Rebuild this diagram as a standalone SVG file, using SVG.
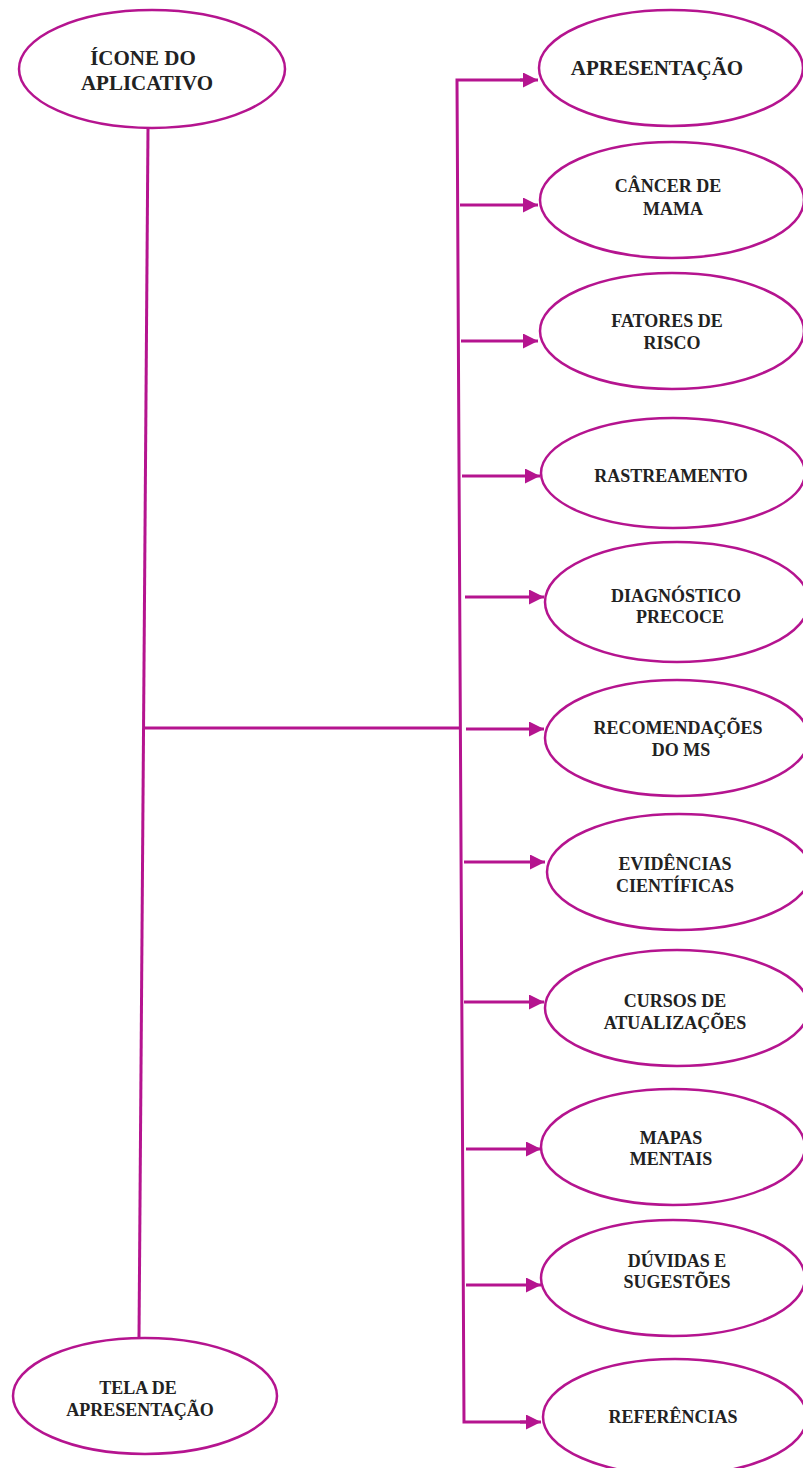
<svg xmlns="http://www.w3.org/2000/svg" width="803" height="1468" viewBox="0 0 803 1468">
<style>
.n ellipse{fill:#fff;stroke:#b5148f;stroke-width:2.5}
.t{font-family:"Liberation Serif","Times New Roman",serif;font-weight:bold;fill:#222;text-anchor:middle}
.s{font-size:18px}
.b{font-size:21px}
.c line,.c polyline{stroke:#b5148f;stroke-width:3;fill:none}
</style>
<defs>
<marker id="ah" markerWidth="5" markerHeight="5" refX="5" refY="2.5" orient="auto" markerUnits="strokeWidth">
<path d="M0,0 L5,2.5 L0,5 Z" fill="#b5148f"/>
</marker>
</defs>
<rect width="803" height="1468" fill="#fff"/>
<g id="connectors" class="c">
<line x1="148" y1="128" x2="139" y2="1338"/>
<line x1="144" y1="728" x2="459" y2="728"/>
<polyline points="530,80 457,80 464,1422 530,1422"/>
<line x1="520" y1="80" x2="538" y2="80" marker-end="url(#ah)"/>
<line x1="520" y1="1422" x2="541" y2="1422" marker-end="url(#ah)"/>
<line x1="460" y1="205" x2="538" y2="205" marker-end="url(#ah)"/>
<line x1="461" y1="341" x2="538" y2="341" marker-end="url(#ah)"/>
<line x1="462" y1="476" x2="540" y2="476" marker-end="url(#ah)"/>
<line x1="465" y1="597" x2="544" y2="597" marker-end="url(#ah)"/>
<line x1="466" y1="729" x2="544" y2="729" marker-end="url(#ah)"/>
<line x1="464" y1="862" x2="545" y2="862" marker-end="url(#ah)"/>
<line x1="464" y1="1002" x2="544" y2="1002" marker-end="url(#ah)"/>
<line x1="466" y1="1149" x2="541" y2="1149" marker-end="url(#ah)"/>
<line x1="466" y1="1285" x2="541" y2="1285" marker-end="url(#ah)"/>
</g>
<g id="icone" class="n"><ellipse cx="152" cy="69" rx="133" ry="59"/>
<text class="t b" x="143" y="65">ÍCONE DO</text><text class="t b" x="147" y="90">APLICATIVO</text></g>
<g id="tela" class="n"><ellipse cx="145" cy="1396" rx="132" ry="58"/>
<text class="t s" x="138" y="1394">TELA DE</text><text class="t s" x="140" y="1416">APRESENTAÇÃO</text></g>
<g id="apresentacao" class="n"><ellipse cx="671" cy="68" rx="132" ry="58"/>
<text class="t b" x="657" y="75">APRESENTAÇÃO</text></g>
<g id="cancer" class="n"><ellipse cx="672" cy="200" rx="132" ry="58"/>
<text class="t s" x="668" y="192">CÂNCER DE</text><text class="t s" x="673" y="215">MAMA</text></g>
<g id="fatores" class="n"><ellipse cx="672" cy="331" rx="132" ry="58"/>
<text class="t s" x="667" y="327">FATORES DE</text><text class="t s" x="672" y="349">RISCO</text></g>
<g id="rastreamento" class="n"><ellipse cx="673" cy="473" rx="132" ry="55"/>
<text class="t s" x="671" y="482">RASTREAMENTO</text></g>
<g id="diagnostico" class="n"><ellipse cx="677" cy="602" rx="132" ry="60"/>
<text class="t s" x="676" y="602">DIAGNÓSTICO</text><text class="t s" x="680" y="623">PRECOCE</text></g>
<g id="recomendacoes" class="n"><ellipse cx="677" cy="738" rx="132" ry="58"/>
<text class="t s" x="678" y="734">RECOMENDAÇÕES</text><text class="t s" x="681" y="756">DO MS</text></g>
<g id="evidencias" class="n"><ellipse cx="679" cy="872" rx="132" ry="58"/>
<text class="t s" x="675" y="870">EVIDÊNCIAS</text><text class="t s" x="675" y="892">CIENTÍFICAS</text></g>
<g id="cursos" class="n"><ellipse cx="677" cy="1008" rx="132" ry="58"/>
<text class="t s" x="675" y="1007">CURSOS DE</text><text class="t s" x="675" y="1029">ATUALIZAÇÕES</text></g>
<g id="mapas" class="n"><ellipse cx="673" cy="1147" rx="132" ry="58"/>
<text class="t s" x="671" y="1144">MAPAS</text><text class="t s" x="671" y="1165">MENTAIS</text></g>
<g id="duvidas" class="n"><ellipse cx="673" cy="1278" rx="132" ry="58"/>
<text class="t s" x="677" y="1267">DÚVIDAS E</text><text class="t s" x="677" y="1288">SUGESTÕES</text></g>
<g id="referencias" class="n"><ellipse cx="675" cy="1417" rx="132" ry="58"/>
<text class="t s" x="673" y="1423">REFERÊNCIAS</text></g>
</svg>
